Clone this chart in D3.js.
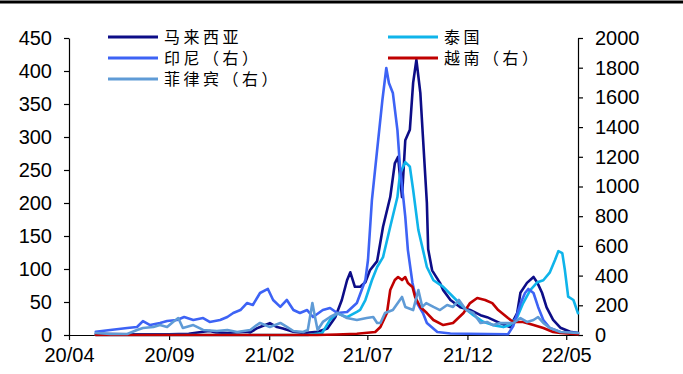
<!DOCTYPE html>
<html>
<head>
<meta charset="utf-8">
<script src="https://cdn.jsdelivr.net/npm/d3@7/dist/d3.min.js"></script>
<style>
  body { margin: 0; background: #fff; }
  svg { display: block; }
</style>
</head>
<body>
<div id="chart"></div>
<script>
// 数据（马来西亚、泰国：左轴；印尼、越南、菲律宾：右轴）
var malaysia = [
  ["2020-05-12", 2], ["2020-07-01", 1], ["2020-09-01", 1], ["2020-10-01", 2], ["2020-10-23", 5],
  ["2020-11-02", 6], ["2020-11-12", 4], ["2020-11-29", 3], ["2020-12-29", 5], ["2021-01-03", 4],
  ["2021-01-13", 10], ["2021-01-18", 12], ["2021-02-02", 18], ["2021-02-13", 12], ["2021-02-22", 10],
  ["2021-03-10", 5], ["2021-03-26", 3], ["2021-04-16", 5], ["2021-05-01", 10], ["2021-05-13", 27],
  ["2021-05-23", 53], ["2021-05-31", 83], ["2021-06-05", 95], ["2021-06-12", 73], ["2021-06-20", 73],
  ["2021-06-28", 80], ["2021-07-05", 98], ["2021-07-16", 112], ["2021-07-25", 164], ["2021-08-05", 209],
  ["2021-08-12", 260], ["2021-08-17", 270], ["2021-08-23", 209], ["2021-08-28", 295], ["2021-09-04", 311],
  ["2021-09-09", 382], ["2021-09-14", 417], ["2021-09-20", 367], ["2021-09-24", 300], ["2021-09-30", 200],
  ["2021-10-02", 130], ["2021-10-08", 98], ["2021-10-20", 79], ["2021-10-25", 68], ["2021-11-05", 53],
  ["2021-11-20", 42], ["2021-12-05", 38], ["2021-12-21", 30], ["2021-12-31", 27], ["2022-01-20", 18],
  ["2022-02-04", 12], ["2022-02-15", 33], ["2022-02-20", 64], ["2022-03-02", 79], ["2022-03-12", 88],
  ["2022-03-18", 79], ["2022-03-25", 64], ["2022-04-01", 42], ["2022-04-11", 23], ["2022-04-22", 11],
  ["2022-05-07", 5], ["2022-05-19", 3]
];
var thailand = [
  ["2020-05-12", 0], ["2021-04-01", 0], ["2021-04-23", 3], ["2021-05-05", 23], ["2021-05-16", 33],
  ["2021-05-31", 27], ["2021-06-15", 35], ["2021-06-20", 38], ["2021-06-28", 53], ["2021-07-08", 83],
  ["2021-07-16", 103], ["2021-07-25", 118], ["2021-08-05", 164], ["2021-08-16", 209], ["2021-08-20", 245],
  ["2021-08-28", 262], ["2021-09-04", 255], ["2021-09-09", 220], ["2021-09-17", 159], ["2021-09-24", 129],
  ["2021-09-30", 103], ["2021-10-10", 83], ["2021-10-25", 73], ["2021-11-09", 58], ["2021-11-25", 42],
  ["2021-12-10", 30], ["2021-12-25", 20], ["2022-01-09", 15], ["2022-01-25", 12], ["2022-02-04", 15],
  ["2022-02-15", 27], ["2022-02-24", 48], ["2022-03-07", 68], ["2022-03-18", 80], ["2022-03-27", 83],
  ["2022-04-06", 95], ["2022-04-14", 114], ["2022-04-19", 127], ["2022-04-25", 124], ["2022-04-29", 98],
  ["2022-05-04", 58], ["2022-05-12", 53], ["2022-05-19", 33]
];
var indonesia = [
  ["2020-05-12", 22], ["2020-06-03", 34], ["2020-06-29", 47], ["2020-07-14", 54], ["2020-07-23", 94],
  ["2020-08-03", 67], ["2020-08-18", 81], ["2020-08-29", 94], ["2020-09-13", 101], ["2020-09-24", 121],
  ["2020-10-08", 101], ["2020-10-23", 114], ["2020-11-02", 88], ["2020-11-18", 101], ["2020-11-29", 121],
  ["2020-12-08", 148], ["2020-12-19", 168], ["2020-12-29", 215], ["2021-01-07", 202], ["2021-01-18", 283],
  ["2021-01-30", 310], ["2021-02-07", 236], ["2021-02-18", 189], ["2021-02-28", 236], ["2021-03-10", 168],
  ["2021-03-20", 148], ["2021-03-31", 168], ["2021-04-09", 121], ["2021-04-24", 168], ["2021-05-05", 182],
  ["2021-05-16", 148], ["2021-05-31", 155], ["2021-06-15", 215], ["2021-06-28", 370], ["2021-07-02", 505],
  ["2021-07-08", 909], ["2021-07-16", 1246], ["2021-07-24", 1582], ["2021-07-30", 1798], ["2021-08-03", 1697],
  ["2021-08-09", 1630], ["2021-08-16", 1380], ["2021-08-20", 1131], ["2021-08-28", 795], ["2021-09-01", 572],
  ["2021-09-08", 350], ["2021-09-15", 215], ["2021-09-24", 148], ["2021-09-30", 81], ["2021-10-16", 20],
  ["2021-11-05", 10], ["2021-12-01", 8], ["2022-01-01", 7], ["2022-02-01", 5], ["2022-02-09", 60],
  ["2022-02-20", 210], ["2022-02-27", 283], ["2022-03-04", 310], ["2022-03-12", 283], ["2022-03-19", 189],
  ["2022-03-27", 101], ["2022-04-06", 47], ["2022-04-22", 20], ["2022-05-19", 13]
];
var vietnam = [
  ["2020-05-12", 0], ["2021-04-15", 0], ["2021-05-15", 3], ["2021-06-15", 8], ["2021-07-13", 20],
  ["2021-07-21", 54], ["2021-07-31", 148], ["2021-08-05", 303], ["2021-08-12", 370], ["2021-08-17", 390],
  ["2021-08-23", 370], ["2021-08-28", 390], ["2021-09-01", 350], ["2021-09-08", 323], ["2021-09-12", 256],
  ["2021-09-20", 189], ["2021-09-30", 148], ["2021-10-10", 101], ["2021-10-25", 67], ["2021-11-09", 81],
  ["2021-11-25", 148], ["2021-12-05", 215], ["2021-12-16", 249], ["2021-12-28", 236], ["2022-01-08", 215],
  ["2022-01-17", 168], ["2022-02-01", 114], ["2022-02-09", 88], ["2022-02-24", 88], ["2022-03-12", 67],
  ["2022-03-27", 47], ["2022-04-11", 20], ["2022-04-22", 13], ["2022-05-12", 7], ["2022-05-19", 5]
];
var philippines = [
  ["2020-05-12", 13], ["2020-06-03", 7], ["2020-06-29", 7], ["2020-07-14", 34], ["2020-07-23", 47],
  ["2020-08-08", 54], ["2020-08-18", 67], ["2020-08-29", 54], ["2020-09-07", 88], ["2020-09-15", 114],
  ["2020-09-22", 47], ["2020-10-08", 67], ["2020-10-23", 34], ["2020-11-13", 27], ["2020-11-29", 34],
  ["2020-12-14", 20], ["2021-01-03", 34], ["2021-01-13", 67], ["2021-01-18", 81], ["2021-02-02", 54],
  ["2021-02-18", 81], ["2021-02-28", 54], ["2021-03-10", 27], ["2021-03-25", 20], ["2021-04-01", 34],
  ["2021-04-08", 215], ["2021-04-12", 121], ["2021-04-16", 34], ["2021-04-24", 88], ["2021-05-05", 121],
  ["2021-05-17", 148], ["2021-05-31", 114], ["2021-06-15", 101], ["2021-06-30", 114], ["2021-07-10", 121],
  ["2021-07-16", 81], ["2021-07-21", 81], ["2021-07-28", 148], ["2021-08-09", 168], ["2021-08-23", 256],
  ["2021-08-28", 189], ["2021-09-09", 168], ["2021-09-17", 303], ["2021-09-23", 189], ["2021-09-29", 215],
  ["2021-10-10", 189], ["2021-10-20", 168], ["2021-10-31", 202], ["2021-11-09", 189], ["2021-11-18", 236],
  ["2021-11-29", 168], ["2021-12-10", 148], ["2021-12-21", 81], ["2021-12-31", 88], ["2022-01-09", 67],
  ["2022-01-20", 81], ["2022-02-01", 80], ["2022-02-09", 81], ["2022-02-20", 114], ["2022-03-02", 88],
  ["2022-03-12", 101], ["2022-03-19", 121], ["2022-03-27", 81], ["2022-04-06", 47], ["2022-04-22", 20],
  ["2022-05-19", 13]
];

var leftTicks = d3.range(0, 451, 50);
var rightTicks = d3.range(0, 2001, 200);
var xTickDates = ["2020-04-01", "2020-09-01", "2021-02-01", "2021-07-01", "2021-12-01", "2022-05-01"];

var series = [
  {name: "马来西亚", data: malaysia, axis: "left", color: "#0d0d87"},
  {name: "泰国", data: thailand, axis: "left", color: "#0fb4ea"},
  {name: "印尼（右）", data: indonesia, axis: "right", color: "#3d63f5"},
  {name: "越南（右）", data: vietnam, axis: "right", color: "#c00000"},
  {name: "菲律宾（右）", data: philippines, axis: "right", color: "#5f9bd6"}
];

(function () {
  var w = 683, h = 374;
  var mLeft = 69, mRight = 578, mTop = 38, mBottom = 335;
  var parse = d3.timeParse("%Y-%m-%d");

  var svg = d3.select("#chart").append("svg").attr("width", w).attr("height", h);

  // 顶部粗线
  svg.append("line").attr("x1", 0).attr("x2", w).attr("y1", 2).attr("y2", 2)
      .attr("stroke", "#000").attr("stroke-width", 3);

  var x = d3.scaleTime().domain([parse("2020-04-01"), parse("2022-05-19")]).range([mLeft, mRight]);
  var yL = d3.scaleLinear().domain([0, 450]).range([mBottom, mTop]);
  var yR = d3.scaleLinear().domain([0, 2000]).range([mBottom, mTop]);

  var tickFont = "'Liberation Sans', Arial, sans-serif";

  // 左轴
  var gL = svg.append("g").attr("transform", "translate(" + mLeft + ",0)")
      .call(d3.axisLeft(yL).tickValues(leftTicks).tickFormat(d3.format("d"))
        .tickSize(5).tickSizeOuter(0).tickPadding(12));
  // 右轴
  var gR = svg.append("g").attr("transform", "translate(" + mRight + ",0)")
      .call(d3.axisRight(yR).tickValues(rightTicks).tickFormat(d3.format("d"))
        .tickSize(5).tickSizeOuter(0).tickPadding(12));
  // 横轴
  var gX = svg.append("g").attr("transform", "translate(0," + mBottom + ")")
      .call(d3.axisBottom(x).tickValues(xTickDates.map(parse)).tickFormat(d3.timeFormat("%y/%m"))
        .tickSize(5).tickSizeOuter(0).tickPadding(8));

  [gL, gR, gX].forEach(function (g) {
    g.selectAll("path.domain").attr("stroke", "#000").attr("stroke-width", 1.2);
    g.selectAll(".tick line").attr("stroke", "#000").attr("stroke-width", 1.2);
    g.selectAll("text").attr("font-family", tickFont).attr("font-size", 20).attr("fill", "#000");
  });

  // 折线
  series.forEach(function (s) {
    var yy = s.axis == "left" ? yL : yR;
    var line = d3.line()
        .x(function (d) { return x(parse(d[0])); })
        .y(function (d) { return yy(d[1]); });
    svg.append("path").attr("d", line(s.data)).attr("fill", "none")
        .attr("stroke", s.color).attr("stroke-width", 2.6)
        .attr("stroke-linejoin", "round").attr("stroke-linecap", "round");
  });

  // 图例
  var legendPos = [[108, 37], [388, 37], [108, 58], [388, 58], [108, 79]];
  series.forEach(function (s, i) {
    var p = legendPos[i];
    svg.append("line").attr("x1", p[0]).attr("x2", p[0] + 50).attr("y1", p[1]).attr("y2", p[1])
        .attr("stroke", s.color).attr("stroke-width", 3);
    svg.append("text").attr("x", p[0] + 56).attr("y", p[1]).attr("dy", "0.36em")
        .attr("font-family", "'Noto Sans CJK SC', sans-serif").attr("font-size", 16)
        .attr("letter-spacing", 3.5).attr("fill", "#000").text(s.name);
  });
})();
</script>
</body>
</html>
